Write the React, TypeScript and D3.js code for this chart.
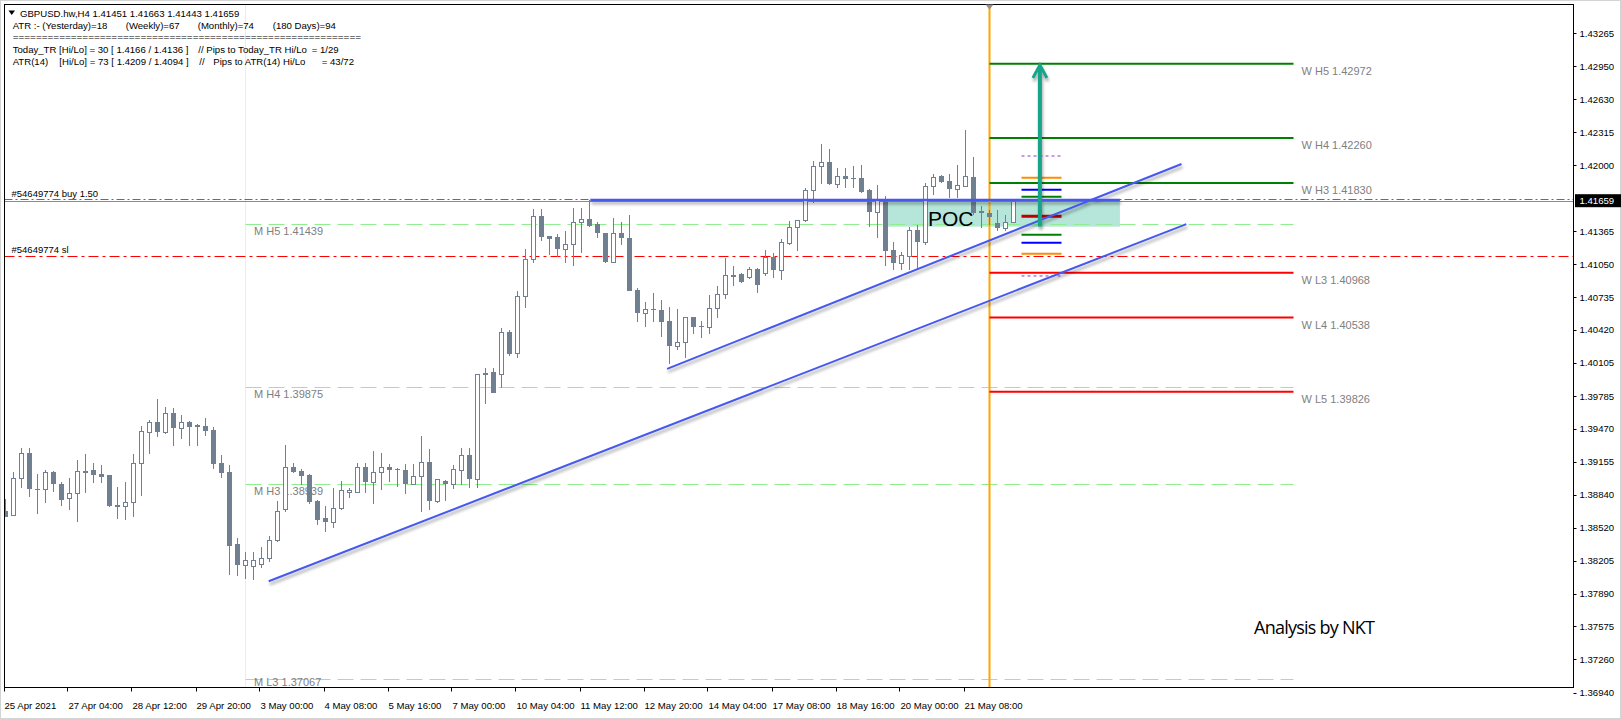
import React from 'react';
import * as d3 from 'd3';

// ---------- DATA (H4 candles, GBPUSD) ----------
const opens = [
1.38684,1.38642,1.38997,1.39237,1.38895,1.38892,1.39055,1.38940,1.38805,1.38853,
1.39064,1.39077,1.39038,1.39029,1.38741,1.38729,1.38773,1.39141,1.39444,1.39534,
1.39438,1.39620,1.39477,1.39534,1.39502,1.39499,1.39460,1.39141,1.39058,1.38367,
1.38166,1.38156,1.38175,1.38233,1.38405,1.38703,1.39103,1.39067,1.39029,1.38779,
1.38616,1.38578,1.38709,1.38863,1.38863,1.39103,1.38959,1.39055,1.39108,1.39086,
1.39074,1.38945,1.39022,1.39156,1.38782,1.38974,1.38945,1.39080,1.39221,1.38990,
1.39994,1.40014,1.40000,1.40400,1.40196,1.40748,1.41097,1.41513,1.41318,1.41311,
1.41199,1.41241,1.41452,1.41481,1.41433,1.41347,1.41074,1.41347,1.41299,1.40803,
1.40579,1.40621,1.40611,1.40506,1.40269,1.40301,1.40541,1.40458,1.40451,1.40627,
1.40762,1.40947,1.40953,1.40930,1.41001,1.40963,1.41119,1.40995,1.41251,1.41410,
1.41474,1.41759,1.41995,1.42028,1.41819,1.41893,1.41874,1.41880,1.41759,1.41548,
1.41666,1.41186,1.41059,1.41132,1.41378,1.41266,1.41800,1.41896,1.41848,1.41771,
1.41803,1.41884,1.41558,1.41538,1.41448,1.41395,1.41451];
const highs = [
1.38799,1.39060,1.39291,1.39291,1.39035,1.39077,1.39067,1.38959,1.38997,1.39173,
1.39227,1.39141,1.39125,1.39032,1.38911,1.38962,1.39230,1.39502,1.39556,1.39758,
1.39684,1.39668,1.39604,1.39544,1.39515,1.39573,1.39492,1.39221,1.39125,1.38425,
1.38290,1.38290,1.38338,1.38444,1.38779,1.39316,1.39141,1.39086,1.39038,1.38789,
1.38731,1.38901,1.38971,1.38901,1.39141,1.39141,1.39259,1.39237,1.39131,1.39091,
1.39137,1.39131,1.39403,1.39275,1.38988,1.38981,1.39125,1.39285,1.39285,1.39994,
1.40058,1.40058,1.40441,1.40419,1.40796,1.41193,1.41580,1.41580,1.41324,1.41340,
1.41369,1.41586,1.41586,1.41666,1.41458,1.41352,1.41491,1.41458,1.41522,1.40819,
1.40691,1.40771,1.40707,1.40643,1.40621,1.40547,1.40547,1.40508,1.40755,1.40844,
1.41113,1.41033,1.40963,1.41026,1.41011,1.41186,1.41158,1.41292,1.41465,1.41467,
1.41784,1.42043,1.42200,1.42155,1.41970,1.41970,1.41995,1.42002,1.41767,1.41810,
1.41707,1.41266,1.41170,1.41410,1.41426,1.41826,1.41912,1.41906,1.41912,1.42002,
1.42337,1.42081,1.41611,1.41570,1.41570,1.41522,1.41663];
const lows = [
1.38621,1.38636,1.38901,1.38815,1.38652,1.38763,1.38863,1.38734,1.38690,1.38575,
1.38853,1.38955,1.38949,1.38725,1.38607,1.38600,1.38629,1.38827,1.39230,1.39390,
1.39419,1.39310,1.39371,1.39307,1.39307,1.39406,1.39083,1.39003,1.38070,1.38060,
1.38031,1.38022,1.38137,1.38194,1.38380,1.38674,1.39045,1.38933,1.38748,1.38549,
1.38482,1.38520,1.38693,1.38811,1.38853,1.38853,1.38748,1.38885,1.38959,1.38917,
1.38844,1.38933,1.38674,1.38693,1.38757,1.38779,1.38894,1.38933,1.38901,1.38901,
1.39707,1.39818,1.39866,1.40170,1.40148,1.40627,1.41059,1.41276,1.41139,1.41122,
1.41065,1.41036,1.41161,1.41404,1.41304,1.41065,1.41065,1.41234,1.40796,1.40499,
1.40445,1.40499,1.40355,1.40090,1.40228,1.40154,1.40381,1.40345,1.40381,1.40532,
1.40717,1.40844,1.40867,1.40906,1.40771,1.40937,1.40918,1.40899,1.41234,1.41177,
1.41455,1.41634,1.41819,1.41810,1.41784,1.41778,1.41778,1.41730,1.41410,1.41299,
1.41033,1.40995,1.40995,1.40995,1.41014,1.41234,1.41714,1.41826,1.41682,1.41682,
1.41800,1.41522,1.41395,1.41426,1.41364,1.41369,1.41443];
const closes = [
1.38629,1.38997,1.39237,1.38892,1.38890,1.39055,1.38940,1.38792,1.38853,1.39064,
1.39067,1.39032,1.39012,1.38734,1.38725,1.38767,1.39141,1.39451,1.39534,1.39438,
1.39620,1.39477,1.39534,1.39492,1.39504,1.39454,1.39137,1.39051,1.38351,1.38166,
1.38214,1.38214,1.38233,1.38405,1.38684,1.39103,1.39060,1.39022,1.38773,1.38597,
1.38578,1.38709,1.38885,1.38885,1.39103,1.38959,1.39060,1.39108,1.39077,1.39074,
1.38945,1.39022,1.39156,1.38782,1.38988,1.38945,1.39083,1.39221,1.38990,1.39994,
1.40010,1.39818,1.40400,1.40186,1.40748,1.41097,1.41513,1.41314,1.41295,1.41199,
1.41241,1.41452,1.41481,1.41420,1.41347,1.41074,1.41347,1.41299,1.40796,1.40579,
1.40618,1.40611,1.40499,1.40269,1.40301,1.40541,1.40451,1.40445,1.40627,1.40762,
1.40944,1.40949,1.40882,1.41001,1.40851,1.41122,1.40995,1.41260,1.41410,1.41474,
1.41759,1.41995,1.42028,1.41819,1.41893,1.41865,1.41870,1.41746,1.41548,1.41666,
1.41180,1.41059,1.41139,1.41378,1.41266,1.41800,1.41889,1.41836,1.41771,1.41807,
1.41896,1.41544,1.41544,1.41500,1.41395,1.41452,1.41659];

const xTickIndex = [0, 8, 16, 24, 32, 40, 48, 56, 64, 72, 80, 88, 96, 104, 112, 120];
const xTickLabels = ['25 Apr 2021', '27 Apr 04:00', '28 Apr 12:00', '29 Apr 20:00', '3 May 00:00',
  '4 May 08:00', '5 May 16:00', '7 May 00:00', '10 May 04:00', '11 May 12:00', '12 May 20:00',
  '14 May 04:00', '17 May 08:00', '18 May 16:00', '20 May 00:00', '21 May 08:00'];
const yTickValues = [1.43265, 1.42950, 1.42630, 1.42315, 1.42000, 1.41365, 1.41050, 1.40735, 1.40420,
  1.40105, 1.39785, 1.39470, 1.39155, 1.38840, 1.38520, 1.38205, 1.37890, 1.37575, 1.37260, 1.36940];

const weeklyNames = ['H5', 'H4', 'H3', 'L3', 'L4', 'L5'];
const weeklyValues = [1.42972, 1.42260, 1.41830, 1.40968, 1.40538, 1.39826];
const monthlyNames = ['H5', 'H4', 'H3', 'L3'];
const monthlyValues = [1.41439, 1.39875, 1.38939, 1.37067];
const dailyValues = [1.42088, 1.41880, 1.41765, 1.41698, 1.41510, 1.41333, 1.41256, 1.41151, 1.40937];
const dailyColors = ['#9932cc', '#ff8c00', '#0000ff', '#008000', '#c00000', '#008000', '#0000ff', '#ff8c00', '#9932cc'];

const bidPrice = 1.41659;
const buyPrice = 1.41673;
const slPrice = 1.41129;
const pocTop = 1.41666;
const pocBottom = 1.41410;
const pocStart = 110.2, pocEnd = 139.3;
const resistStart = 73.1, resistEnd = 139.3;
const upperTrend = [[82.7, 1.40046], [147.0, 1.42011]];
const lowerTrend = [[32.9, 1.38008], [147.6, 1.41434]];
const arrowBar = 129.3;
const arrowFrom = 1.41411, arrowTo = 1.42961;
const monthStartBar = 30;
const dayStartBar = 123;
const levelEndBar = 161;
const dailyStart = 127, dailyEnd = 132;

const FONT = '"Liberation Sans", Arial, sans-serif';

export default function App() {
  const x = d3.scaleLinear().domain([0, 126]).range([5.5, 1013.5]);
  const y = d3.scaleLinear().domain([1.36940, 1.43265]).range([692.6, 33.3]);
  const plotL = 4.5, plotR = 1573.5, plotT = 4.5, plotB = 687.5;
  const line = d3.line<number[]>().x(d => x(d[0])).y(d => y(d[1]));

  const candles = opens.map((o, i) => {
    const c = closes[i], h = highs[i], l = lows[i];
    const cx = x(i);
    const bull = c >= o;
    const yt = Math.round(y(Math.max(o, c)));
    const yb = Math.round(y(Math.min(o, c)));
    return (
      <g key={i}>
        <line x1={cx} x2={cx} y1={Math.round(y(h))} y2={Math.round(y(l))} stroke="#708090" strokeWidth={1} />
        {bull ? (
          <rect x={cx - 2} y={yt + 0.5} width={4} height={Math.max(yb - yt, 1)} fill="#fff" stroke="#708090" strokeWidth={1} />
        ) : (
          <rect x={cx - 2.5} y={yt} width={5} height={Math.max(yb - yt, 1)} fill="#708090" />
        )}
      </g>
    );
  });

  const header = (t: string, xx: number, yy: number, k: string, w?: number) => (
    <text key={k} x={xx} y={yy} textLength={w} lengthAdjust={w ? 'spacingAndGlyphs' : undefined} fontSize={9.6} fontFamily={FONT} fill="#000">{t}</text>
  );

  return (
    <svg width={1621} height={719} style={{ position: 'absolute', left: 0, top: 0, background: '#fff' }}>
      <defs>
        <clipPath id="plot"><rect x={5} y={5} width={1568} height={682} /></clipPath>
        <filter id="shadow" filterUnits="userSpaceOnUse" x={0} y={0} width={1621} height={719}>
          <feDropShadow dx={1} dy={3} stdDeviation={1.6} floodColor="#000" floodOpacity={0.35} />
        </filter>
      </defs>
      <rect x={0.5} y={0.5} width={1620} height={718} fill="#fff" stroke="#d4d4d4" />

      <g clipPath="url(#plot)">
        {/* POC zone */}
        <rect x={x(pocStart)} y={y(pocTop)} width={x(pocEnd) - x(pocStart)} height={y(pocBottom) - y(pocTop)} fill="#b6e5d9" />
        {/* month separator */}
        <line x1={x(monthStartBar)} x2={x(monthStartBar)} y1={plotT} y2={plotB} stroke="#f7f2b4" strokeWidth={1} />
        {/* monthly camarilla lines */}
        {monthlyValues.map((v, i) => (
          <line key={'m' + i} x1={x(monthStartBar)} x2={x(levelEndBar)} y1={Math.round(y(v)) + 0.5} y2={Math.round(y(v)) + 0.5} stroke="#90ee90" strokeDasharray="16 7" />
        ))}
        {monthlyValues.slice(0, 3).map((v, i) => (
          <text key={'mt' + i} x={254} y={y(v) + 11} fontSize={11} fontFamily={FONT} fill="#808080">{'M  ' + monthlyNames[i] + ' ' + v.toFixed(5)}</text>
        ))}
        {/* order lines */}
        <line x1={plotL} x2={plotR} y1={Math.round(y(buyPrice)) + 0.5} y2={Math.round(y(buyPrice)) + 0.5} stroke="#00b400" strokeDasharray="8 3 2 3" />
        <line x1={plotL} x2={plotR} y1={Math.round(y(bidPrice)) + 0.5} y2={Math.round(y(bidPrice)) + 0.5} stroke="#8a8a8a" />
        <line x1={plotL} x2={plotR} y1={Math.round(y(slPrice)) + 0.5} y2={Math.round(y(slPrice)) + 0.5} stroke="#ff0000" strokeDasharray="10 4 3 4" />
        <text x={11.5} y={y(buyPrice) - 2.5} fontSize={9.5} fontFamily={FONT} fill="#000">#54649774 buy 1.50</text>
        <text x={11.5} y={y(slPrice) - 3} fontSize={9.5} fontFamily={FONT} fill="#000">#54649774 sl</text>

        {/* day separator */}
        <line x1={x(dayStartBar)} x2={x(dayStartBar)} y1={plotT} y2={plotB} stroke="#ffa500" strokeWidth={2} />
        {/* weekly camarilla */}
        {weeklyValues.map((v, i) => (
          <g key={'w' + i}>
            <line x1={x(dayStartBar)} x2={x(levelEndBar)} y1={y(v)} y2={y(v)} stroke={i < 3 ? '#008000' : '#ff0000'} strokeWidth={2} />
            <text x={1301.5} y={y(v) + 11} fontSize={11} fontFamily={FONT} fill="#808080">{'W  ' + weeklyNames[i] + ' ' + v.toFixed(5)}</text>
          </g>
        ))}
        {/* daily short levels */}
        {dailyValues.map((v, i) => (
          <line key={'d' + i} x1={x(dailyStart)} x2={x(dailyEnd)} y1={y(v)} y2={y(v)} stroke={dailyColors[i]}
            strokeWidth={i === 0 || i === 8 ? 1 : i === 4 ? 3 : 2} strokeDasharray={i === 0 || i === 8 ? '3 3' : undefined} />
        ))}

        {/* candles */}
        <g shapeRendering="crispEdges">{candles}</g>

        {/* trend lines */}
        <g filter="url(#shadow)">
          <line x1={x(resistStart)} x2={x(resistEnd)} y1={y(pocTop)} y2={y(pocTop)} stroke="#4659ee" strokeWidth={2.5} />
          <path d={line(upperTrend) || ''} stroke="#4659ee" strokeWidth={2} fill="none" />
          <path d={line(lowerTrend) || ''} stroke="#4659ee" strokeWidth={2} fill="none" />
          <line x1={x(arrowBar)} x2={x(arrowBar)} y1={y(arrowFrom)} y2={y(arrowTo) + 2} stroke="#17a589" strokeWidth={4} />
          <polyline points={`${x(arrowBar) - 7},${y(arrowTo) + 13} ${x(arrowBar)},${y(arrowTo)} ${x(arrowBar) + 7},${y(arrowTo) + 13}`} stroke="#17a589" strokeWidth={3} fill="none" />
        </g>
        <text x={928} y={226} fontSize={21} fontFamily={FONT} fill="#000">POC</text>
      </g>
      <text x={254} y={685.5} fontSize={11} fontFamily={FONT} fill="#808080">{'M  ' + monthlyNames[3] + ' ' + monthlyValues[3].toFixed(5)}</text>

      {/* frame & axes */}
      <rect x={plotL} y={plotT} width={plotR - plotL} height={plotB - plotT} fill="none" stroke="#000" />
      <path d={`M${x(dayStartBar) - 4},${plotT} L${x(dayStartBar) + 4},${plotT} L${x(dayStartBar)},${plotT + 5} Z`} fill="#909090" />
      {yTickValues.map((v, i) => (
        <g key={'yt' + i}>
          <line x1={plotR} x2={plotR + 3} y1={Math.round(y(v)) + 0.5} y2={Math.round(y(v)) + 0.5} stroke="#000" />
          <text x={1579.5} y={y(v) + 3.5} fontSize={9.6} fontFamily={FONT} fill="#000">{v.toFixed(5)}</text>
        </g>
      ))}
      <rect x={1575} y={y(bidPrice) - 6.5} width={46} height={13} fill="#000" />
      <text x={1579.5} y={y(bidPrice) + 3.5} fontSize={9.6} fontFamily={FONT} fill="#fff">{bidPrice.toFixed(5)}</text>

      {xTickIndex.map((idx, i) => (
        <g key={'xt' + i}>
          <line x1={Math.round(x(idx)) - 1.5} x2={Math.round(x(idx)) - 1.5} y1={plotB} y2={plotB + 4} stroke="#000" />
          <text x={x(idx) - 1} y={709} fontSize={9.6} fontFamily={FONT} fill="#000">{xTickLabels[i]}</text>
        </g>
      ))}

      {/* header info */}
      <path d="M8.5,10.5 L15,10.5 L11.75,15 Z" fill="#000" />
      {header('GBPUSD.hw,H4  1.41451 1.41663 1.41443 1.41659', 20, 16.5, 'h1')}
      {header('ATR :- (Yesterday)=18', 12.7, 29.2, 'h2a')}
      {header('(Weekly)=67', 125.7, 29.2, 'h2b')}
      {header('(Monthly)=74', 197.7, 29.2, 'h2c')}
      {header('(180 Days)=94', 272.7, 29.2, 'h2d')}
      {header('='.repeat(60), 12.7, 39.8, 'h3', 348.3)}
      {header('Today_TR [Hi/Lo] = 30 [ 1.4166 / 1.4136 ]', 12.7, 52.8, 'h4a')}
      {header('// Pips to Today_TR Hi/Lo', 198.3, 52.8, 'h4b')}
      {header('= 1/29', 311.7, 52.8, 'h4c')}
      {header('ATR(14)', 12.7, 65.2, 'h5a')}
      {header('[Hi/Lo] = 73 [ 1.4209 / 1.4094 ]', 59.3, 65.2, 'h5b')}
      {header('//', 199.3, 65.2, 'h5c')}
      {header('Pips to ATR(14) Hi/Lo', 213.3, 65.2, 'h5d')}
      {header('= 43/72', 321.7, 65.2, 'h5e')}

      <text x={1254} y={634} fontSize={18} textLength={121} lengthAdjust="spacing" fontFamily={'"Open Sans", Arial, sans-serif'} fill="#000">Analysis by NKT</text>
    </svg>
  );
}
